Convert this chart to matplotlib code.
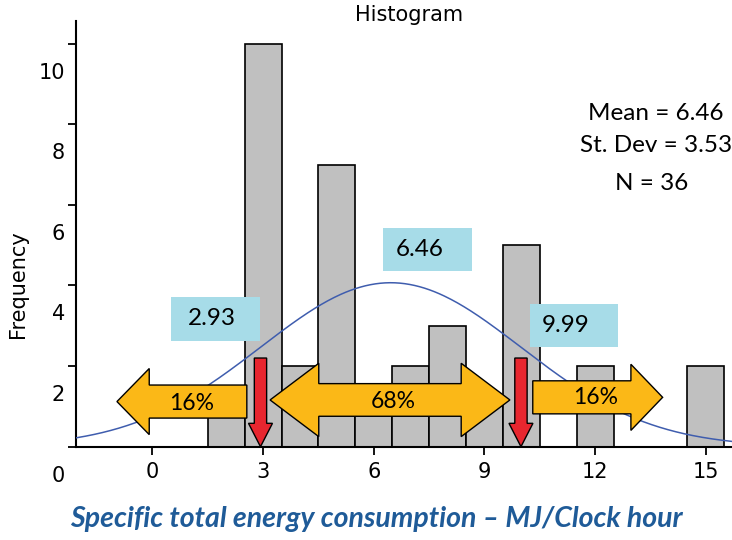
import matplotlib
matplotlib.use('Agg')
import numpy as np
import matplotlib.pyplot as plt
from matplotlib.patches import Polygon, Rectangle
from matplotlib.transforms import ScaledTranslation

# ---------------------------------------------------------------
# data
# ---------------------------------------------------------------
bin_centers = [2, 3, 4, 5, 6, 7, 8, 9, 10, 12, 15]
counts      = [1, 10, 2, 7, 1, 2, 3, 1, 5, 2, 2]
bin_width   = 1.0

mean_val = 6.46
sd_val   = 3.53
n_obs    = 36
sd_low   = 2.93     # mean - 1 sd
sd_high  = 9.99     # mean + 1 sd

x_ticks = [0, 3, 6, 9, 12, 15]
y_ticks = [0, 2, 4, 6, 8, 10]
pct_labels = ['16%', '68%', '16%']

# ---------------------------------------------------------------
# style
# ---------------------------------------------------------------
tick_font = 'DejaVu Sans'
calibri   = ['Lato', 'DejaVu Sans']
bar_col   = '#C0C0C0'
curve_col = '#3F5DAE'
box_col   = '#A7DCE8'
orange    = '#FBB817'
red       = '#E8262F'
xlab_col  = '#1F5B98'

xmin, xmax = -2.07, 15.71
ymin, ymax = 0, 10.57

fig = plt.figure(figsize=(7.32, 5.4), dpi=100)
ax = fig.add_axes([76/732, 93.3/540, 656/732, 426/540])

# histogram bars
ax.bar(bin_centers, counts, width=bin_width, color=bar_col,
       edgecolor='black', linewidth=1.2, zorder=2)

# fitted normal curve
xx = np.linspace(xmin, xmax, 400)
yy = n_obs * bin_width * np.exp(-0.5*((xx - mean_val)/sd_val)**2) / (sd_val*np.sqrt(2*np.pi))
ax.plot(xx, yy, color=curve_col, lw=1.1, zorder=3)


def h_arrow(x0, x1, yc, body, head, hlen, double=False):
    s = 1 if x1 > x0 else -1
    if double:
        pts = [(x0, yc), (x0 + hlen, yc + head), (x0 + hlen, yc + body),
               (x1 - hlen, yc + body), (x1 - hlen, yc + head), (x1, yc),
               (x1 - hlen, yc - head), (x1 - hlen, yc - body),
               (x0 + hlen, yc - body), (x0 + hlen, yc - head)]
    else:
        pts = [(x0, yc - body), (x0, yc + body), (x1 - s*hlen, yc + body),
               (x1 - s*hlen, yc + head), (x1, yc), (x1 - s*hlen, yc - head),
               (x1 - s*hlen, yc - body)]
    return Polygon(pts, closed=True, facecolor=orange, edgecolor='black',
                   lw=1.0, zorder=5)


def v_arrow(xc, ytop, ytip, half, head_half, head_y):
    pts = [(xc - half, ytop), (xc + half, ytop), (xc + half, head_y),
           (xc + head_half, head_y), (xc, ytip), (xc - head_half, head_y),
           (xc - half, head_y)]
    return Polygon(pts, closed=True, facecolor=red, edgecolor='black',
                   lw=1.0, zorder=6)


# orange arrows: (start, end, y centre, body half, head half, head length, double)
orange_arrows = [
    (sd_low - 0.37, -0.96, 1.12, 0.41, 0.82, 0.875, False),
    (sd_low + 0.26, sd_high - 0.30, 1.16, 0.405, 0.91, 1.32, True),
    (sd_high + 0.32, 13.83, 1.225, 0.41, 0.82, 0.86, False),
]
for a in orange_arrows:
    ax.add_patch(h_arrow(*a))

pct_pos = [(1.07, 1.06), (6.53, 1.12), (12.0, 1.23)]
for (px, py), lab in zip(pct_pos, pct_labels):
    ax.text(px, py, lab, ha='center', va='center', fontsize=16.5,
            family=calibri, zorder=7)

for xv in [sd_low, sd_high]:
    ax.add_patch(v_arrow(xv, 2.2, 0.0, 0.167, 0.325, 0.58))

# light blue value boxes: (value, box centre x, box centre y, text x)
boxes = [(sd_low, 1.71, 3.17, 1.61), (mean_val, 7.45, 4.89, 7.25),
         (sd_high, 11.43, 3.01, 11.21)]
bw, bh = 2.40, 1.07
for val, cx, cy, tx in boxes:
    ax.add_patch(Rectangle((cx - bw/2, cy - bh/2), bw, bh, facecolor=box_col,
                           edgecolor='none', zorder=4))
    ax.text(tx, cy, f'{val:.2f}', ha='center', va='center', fontsize=17.5,
            family=calibri, zorder=7)

# stats text
fig.text(656/732, 1 - 113/540, f'Mean = {mean_val:.2f}', ha='center', va='center',
         fontsize=17.5, family=calibri)
fig.text(656/732, 1 - 145/540, f'St. Dev = {sd_val:.2f}', ha='center', va='center',
         fontsize=17.5, family=calibri)
fig.text(652/732, 1 - 184/540, f'N = {n_obs}', ha='center', va='center',
         fontsize=17.5, family=calibri)

# axes
ax.set_xlim(xmin, xmax)
ax.set_ylim(ymin, ymax)
for sp in ['top', 'right']:
    ax.spines[sp].set_visible(False)
for sp in ['left', 'bottom']:
    ax.spines[sp].set_linewidth(1.5)

ax.set_xticks(x_ticks)
ax.set_yticks(y_ticks)
ax.tick_params(axis='both', direction='out', length=6, width=1.3,
               labelsize=15, pad=5)
ax.tick_params(axis='y', pad=2)
for lab in ax.get_xticklabels() + ax.get_yticklabels():
    lab.set_family(tick_font)
# y labels in the original sit below their ticks
shift = ScaledTranslation(0, -27/100, fig.dpi_scale_trans)
for lab in ax.get_yticklabels():
    lab.set_transform(lab.get_transform() + shift)

fig.text(409/732, 1 - 15/540, 'Histogram', ha='center', va='center',
         fontsize=15, family=tick_font)
fig.text(18/732, 1 - 284/540, 'Frequency', ha='center', va='center',
         rotation=90, fontsize=15, family=tick_font)
fig.text(376/732, 1 - 519/540, 'Specific total energy consumption \u2013 MJ/Clock hour',
         ha='center', va='center', fontsize=20.5, color=xlab_col,
         family=calibri, fontweight='bold', fontstyle='italic')

fig.savefig('out.png', dpi=100)
